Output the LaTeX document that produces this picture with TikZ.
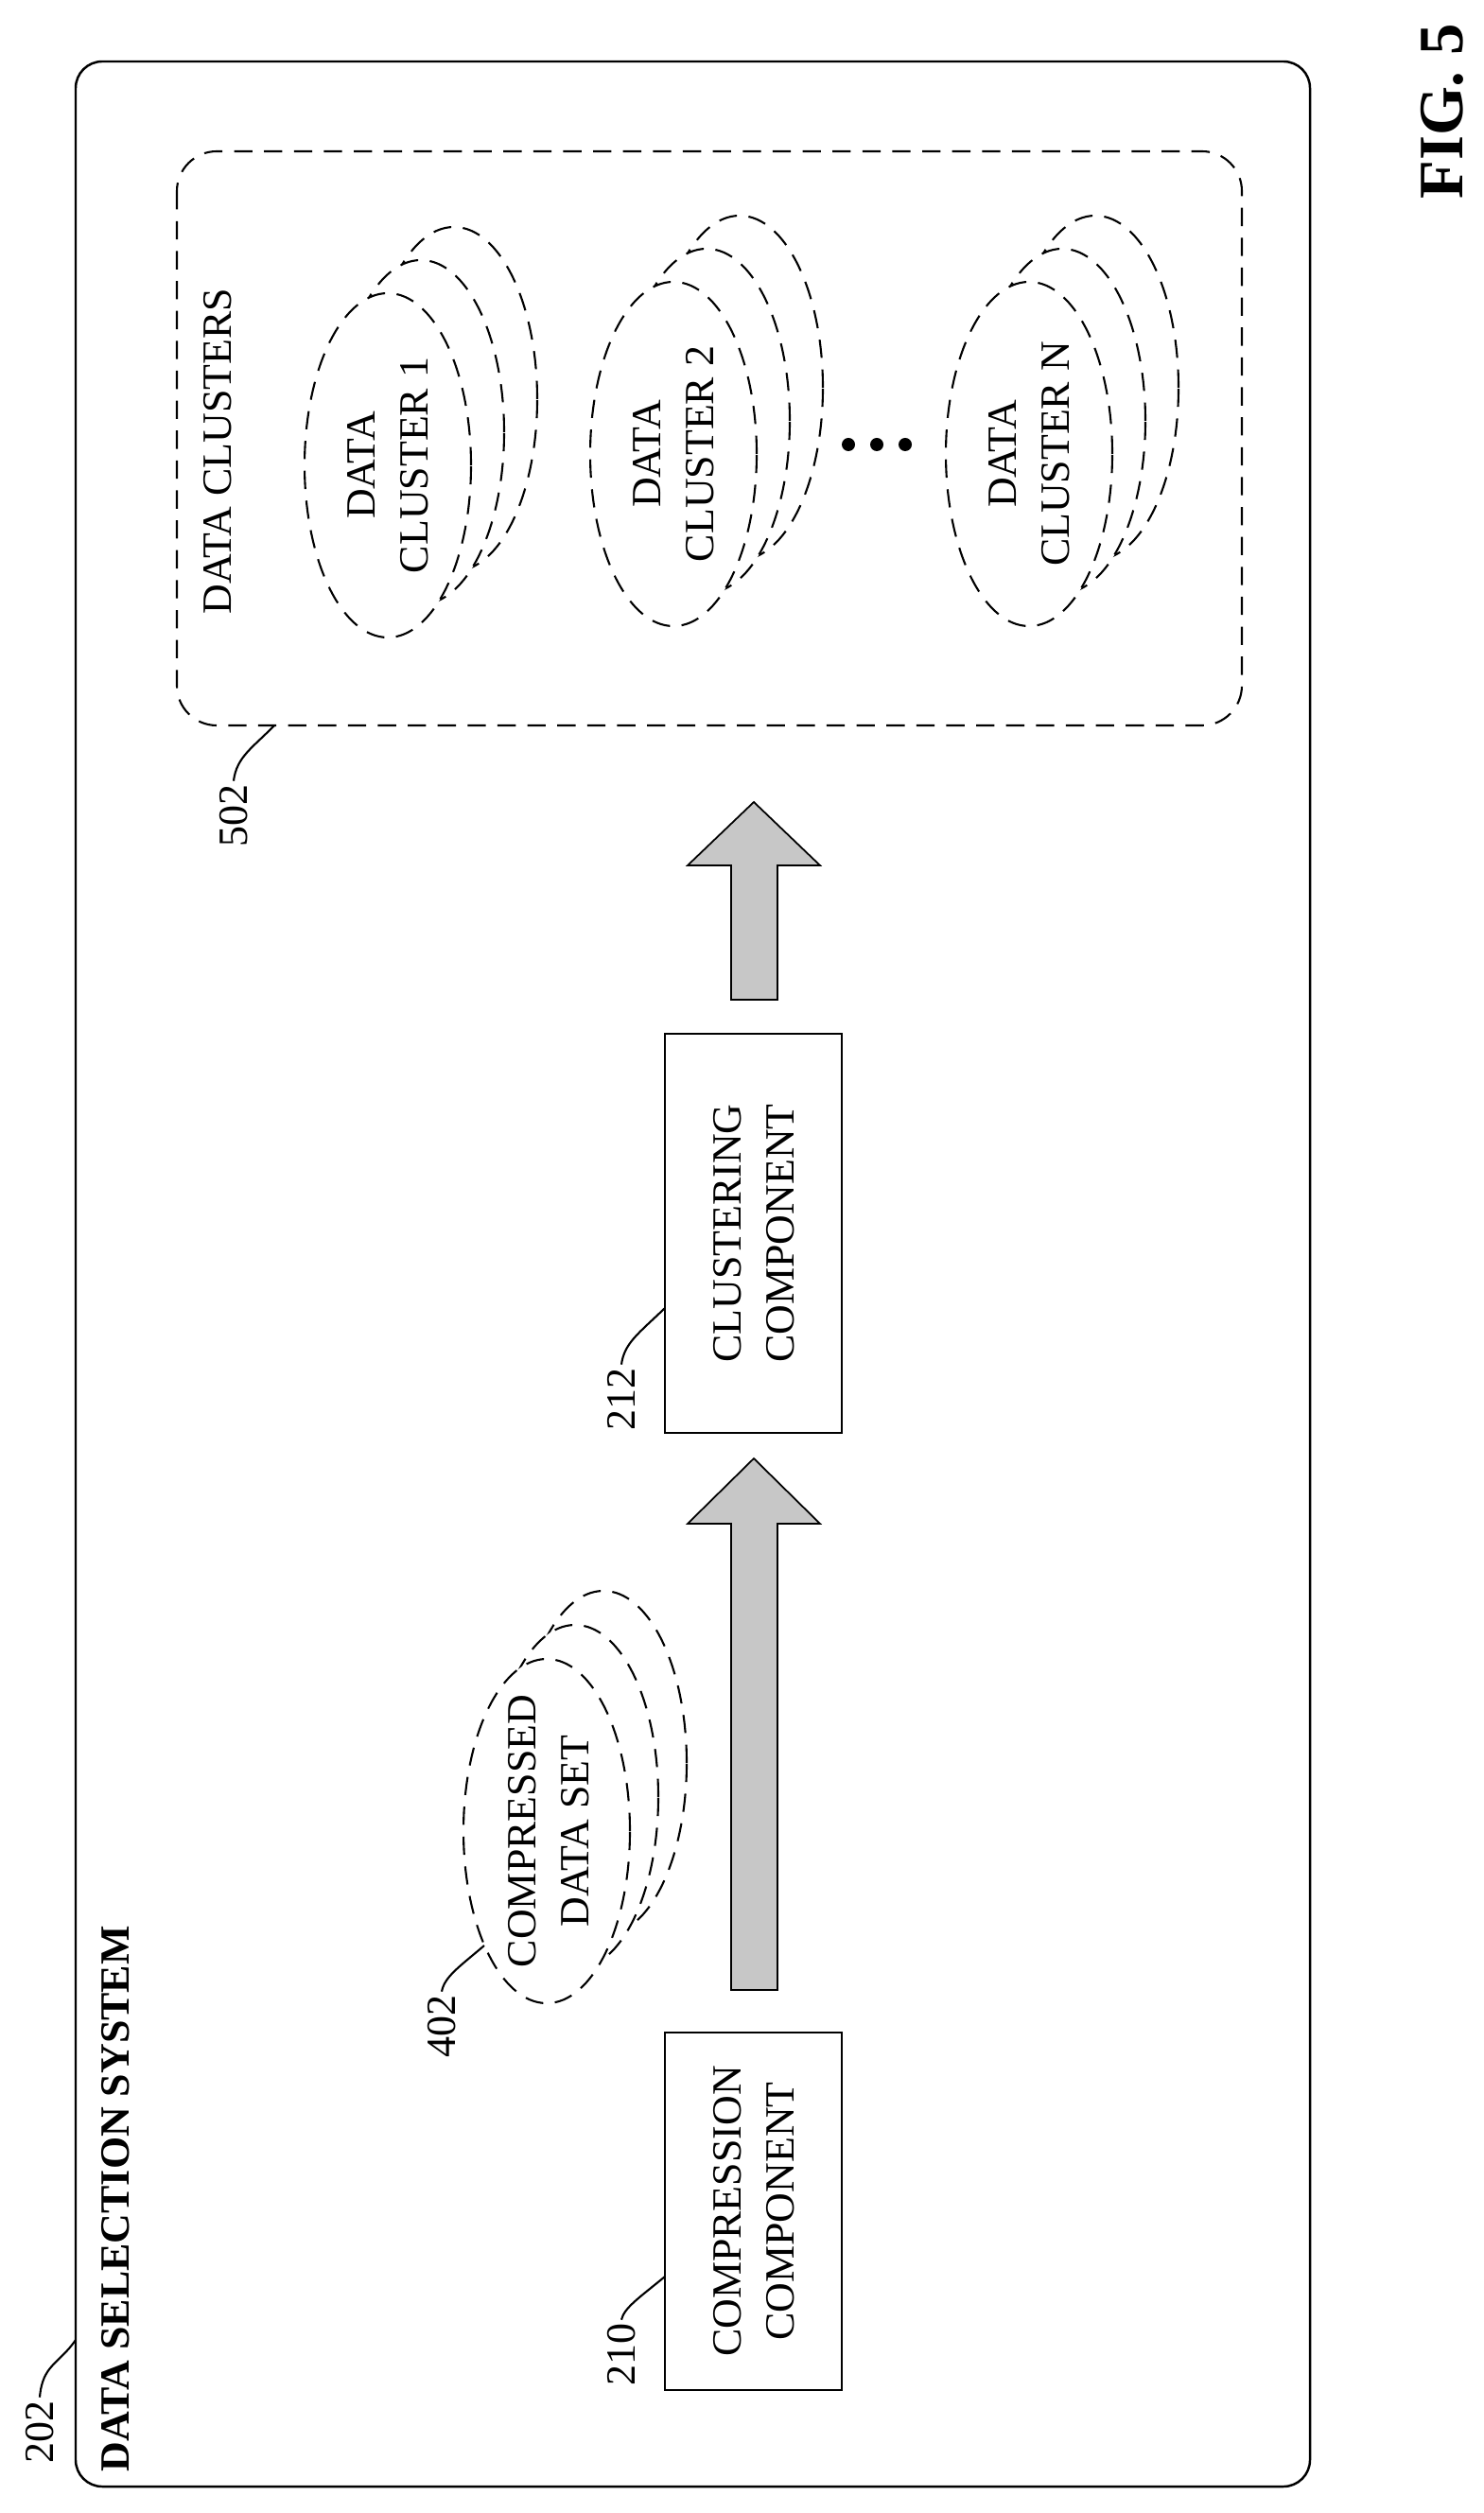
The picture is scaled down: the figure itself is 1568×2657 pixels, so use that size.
\documentclass[tikz,border=0pt]{standalone}
\usepackage{fontspec}
\setmainfont{Liberation Serif}
\usetikzlibrary{shapes.geometric}
\begin{document}
\begin{tikzpicture}[x=0.1mm,y=-0.1mm,
  txt/.style={rotate=90,font=\fontsize{12.5}{16}\selectfont,align=center,inner sep=0pt},
  lbl/.style={rotate=90,font=\fontsize{12.5}{15}\selectfont,inner sep=1pt,anchor=west},
  box/.style={draw,line width=0.7pt},
  ell/.style={draw,dash pattern=on 5.5pt off 3.5pt,line width=0.6pt,fill=white,ellipse,inner sep=0pt,minimum width=17.6mm,minimum height=36.4mm},
  garrow/.style={draw,line width=0.5pt,fill=black!22},
  lead/.style={line width=0.6pt}]
\useasboundingbox (0,0) rectangle (1568,2657);
% outer
\draw[box,rounded corners=8] (80,65) rectangle (1385,2629);
\node[rotate=90,anchor=west,font=\fontsize{12.5}{15}\selectfont\bfseries,inner sep=0pt] (title) at (122,2614) {DATA SELECTION SYSTEM};
\node[lbl] (l202) at (42,2609) {202};
\coordinate (c202) at (80,2474);
\draw[lead] (l202.east) .. controls (45,2500) and (62,2500) .. (c202);
\node[rotate=90,font=\fontsize{19}{22}\selectfont\bfseries,inner sep=0pt] (fig) at (1525,118) {FIG. 5};
% compression component
\draw[box] (703,2149) rectangle (890,2527);
\node[txt] (cct) at (797,2338) {COMPRESSION\\COMPONENT};
\node[lbl] (l210) at (657,2527) {210};
\coordinate (c210) at (703,2407);
\draw[lead] (l210.east) .. controls (660,2440) and (675,2430) .. (c210);
% compressed data set stack
\foreach \i in {2,1,0}{
  \node[ell] (cds\i) at (578+30*\i,1936-36*\i) {};
}
\node[txt] (cdst) at (580,1936) {COMPRESSED\\DATA SET};
\node[lbl] (l402) at (467,2180) {402};
\coordinate (c402) at (512,2057);
\draw[lead] (l402.east) .. controls (470,2090) and (485,2080) .. (c402);
% arrow 1
\draw[garrow] (773,2104) -- (773,1611) -- (727,1611) -- (797,1542) -- (867,1611) -- (822,1611) -- (822,2104) -- cycle;
% clustering component
\draw[box] (703,1093) rectangle (890,1515);
\node[txt] (clt) at (797,1304) {CLUSTERING\\COMPONENT};
\node[lbl] (l212) at (657,1517) {212};
\coordinate (c212) at (703,1383);
\draw[lead] (l212.east) .. controls (660,1420) and (675,1410) .. (c212);
% arrow 2
\draw[garrow] (773,1057) -- (773,915) -- (727,915) -- (797,848) -- (867,915) -- (822,915) -- (822,1057) -- cycle;
% data clusters box
\draw[line width=0.6pt,dash pattern=on 5.5pt off 3.5pt,rounded corners=12] (187,160) rectangle (1313,767);
\node[rotate=90,anchor=west,font=\fontsize{12.5}{15}\selectfont,inner sep=0pt] (dct) at (230,650) {DATA CLUSTERS};
\node[lbl] (l502) at (247,900) {502};
\coordinate (c502) at (290,767);
\draw[lead] (l502.east) .. controls (250,800) and (268,790) .. (c502);
% cluster stacks
\foreach \cx/\cy/\nm/\t in {410/492/a/1,712/480/b/2,1088/480/c/N}{
  \foreach \i in {2,1,0}{
    \node[ell] (\nm\i) at (\cx+35*\i,\cy-35*\i) {};
  }
  \node[txt] (\nm t) at (\cx,\cy) {DATA\\CLUSTER \t};
}
\foreach \y [count=\k] in {897,927,957}{
  \fill (\y,470) circle (7) coordinate (dot\k);
}
\end{tikzpicture}
\end{document}
